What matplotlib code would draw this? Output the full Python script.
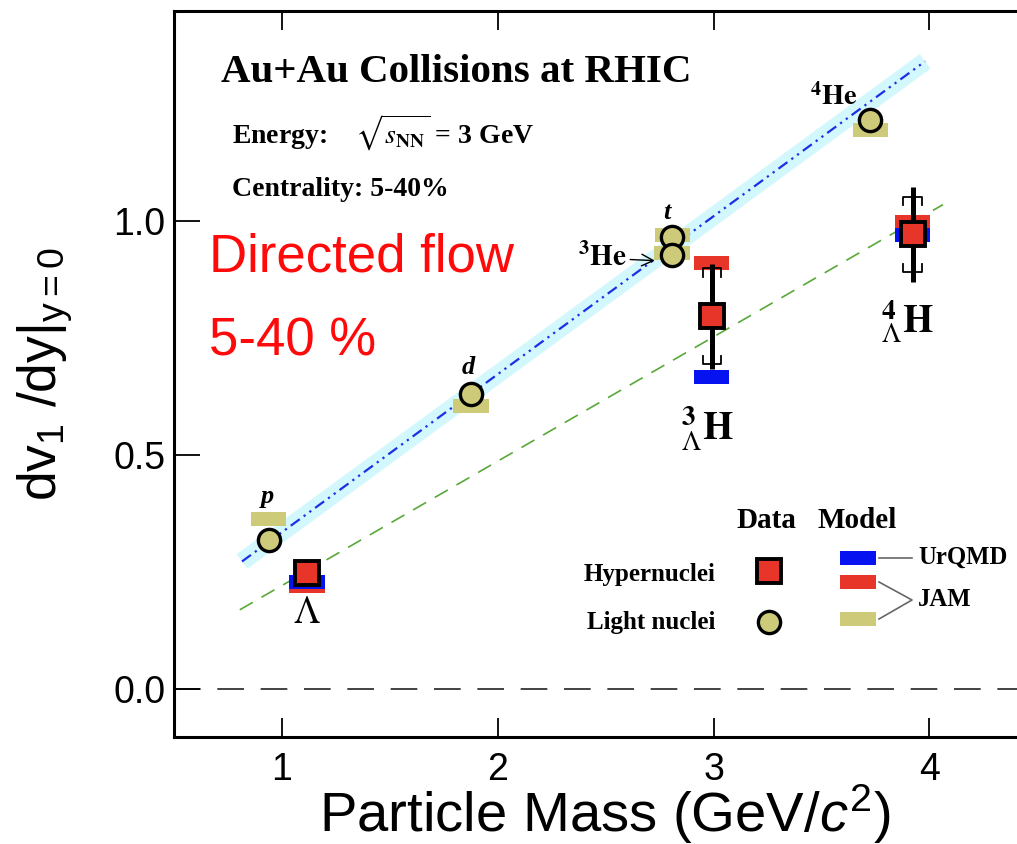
import matplotlib
matplotlib.use("Agg")
import matplotlib.pyplot as plt
import numpy as np

# ---- data: slope of directed flow vs particle mass ----
light_mass = [0.938, 1.876, 2.809, 2.808, 3.727]      # p, d, t, 3He, 4He
light_dv1 = [0.319, 0.630, 0.966, 0.927, 1.216]
light_jam = [0.364, 0.606, 0.970, 0.933, 1.195]

hyper_mass = [1.116, 2.991, 3.922]                     # Lambda, 3LH, 4LH
hyper_dv1 = [0.248, 0.797, 0.972]
hyper_stat = [0.0, 0.112, 0.101]
hyper_sys = [0.0, 0.103, 0.081]
hyper_jam = [0.220, 0.910, 0.998]
hyper_urqmd = [0.228, 0.668, 0.970]

# linear fits (slope, intercept, mass range)
light_fit = (0.338, -0.003, 0.815, 3.98)
hyper_fit = (0.266, -0.045, 0.805, 4.063)

x_ticks = [1, 2, 3, 4]
y_ticks = [0.0, 0.5, 1.0]

# ---- colours ----
KHAKI = "#CDCA7A"
RED = "#E8352A"
BLUE = "#0712F0"
BAND = "#D2F7FC"
FITBLUE = "#1A2FE6"
GREEN = "#5AA83A"

SERIF = "Liberation Serif"
SANS = "Liberation Sans"

plt.rcParams["font.family"] = SANS
plt.rcParams["mathtext.fontset"] = "custom"
plt.rcParams["mathtext.rm"] = SANS
plt.rcParams["mathtext.it"] = SANS + ":italic"
plt.rcParams["mathtext.bf"] = SANS + ":bold"

fig = plt.figure(figsize=(10.17, 8.44), dpi=100)
ax = fig.add_axes([174 / 1017, 107 / 844, 843 / 1017, 726 / 844])
ax.set_xlim(0.5, 4.406)
ax.set_ylim(-0.103, 1.45)

# ---- fits ----
s, b, m0, m1 = light_fit
mm = np.array([m0, m1])
ax.plot(mm, s * mm + b, color=BAND, lw=13, solid_capstyle="butt", zorder=1)
ax.plot(mm, s * mm + b, color=FITBLUE, lw=1.6, dashes=(5, 2.2, 1, 2.2, 1, 2.2), zorder=2)
s, b, m0, m1 = hyper_fit
mm = np.array([m0, m1])
ax.plot(mm, s * mm + b, color=GREEN, lw=1.2, dashes=(9, 6), zorder=2)

# zero line
ax.axhline(0.0, color="#222222", lw=1.2, dashes=(16, 10), zorder=1)

# ---- model bands ----
bw, bh = 0.165, 0.03
ax.bar(light_mass, bh, bottom=np.array(light_jam) - bh / 2, width=bw, color=KHAKI, zorder=3)
ax.bar(hyper_mass, bh, bottom=np.array(hyper_jam) - bh / 2, width=bw, color=RED, zorder=3)
ax.bar(hyper_mass, bh, bottom=np.array(hyper_urqmd) - bh / 2, width=bw, color=BLUE, zorder=3.1)

# ---- data ----
ax.errorbar(hyper_mass, hyper_dv1, yerr=hyper_stat, fmt="none", ecolor="black",
            elinewidth=3.6, capsize=0, zorder=4)
hw, hl = 0.042, 0.018
for m, v, e in zip(hyper_mass, hyper_dv1, hyper_sys):
    if e <= 0:
        continue
    ax.plot([m - hw, m - hw, m + hw, m + hw], [v + e - hl, v + e, v + e, v + e - hl],
            color="black", lw=1.3, zorder=4)
    ax.plot([m - hw, m - hw, m + hw, m + hw], [v - e + hl, v - e, v - e, v - e + hl],
            color="black", lw=1.3, zorder=4)

ax.plot(light_mass, light_dv1, "o", ms=16, mfc=KHAKI, mec="black", mew=2.4, zorder=5)
ax.plot(hyper_mass, hyper_dv1, "s", ms=17.5, mfc=RED, mec="black", mew=2.8, zorder=5)

# ---- particle labels ----
lab = dict(family=SERIF, fontweight="bold", math_fontfamily="stix", color="black", zorder=6)
ax.text(0.935, 0.411, "p", fontsize=19, style="italic", ha="center", va="center", **lab)
ax.text(1.862, 0.687, "d", fontsize=19, style="italic", ha="center", va="center", **lab)
ax.text(2.784, 1.019, "t", fontsize=19, style="italic", ha="center", va="center", **lab)
ax.text(3.56, 1.266, r"$^{\mathbf{4}}\mathbf{He}$", fontsize=20.5, ha="center", va="center", **lab)
ax.annotate(r"$^{\mathbf{3}}\mathbf{He}$", xy=(2.728, 0.916), xytext=(2.487, 0.921),
            fontsize=21, ha="center", va="center", family=SERIF, math_fontfamily="stix",
            arrowprops=dict(arrowstyle="->", lw=1.0, color="black", shrinkA=0, shrinkB=0),
            zorder=6)
ax.text(1.116, 0.162, r"$\Lambda$", fontsize=27, ha="center", va="center", **lab)
ax.text(2.97, 0.555, r"${}^{\mathbf{3}}_{\Lambda}\mathbf{H}$", fontsize=28, ha="center", va="center", **lab)
ax.text(3.90, 0.785, r"${}^{\mathbf{4}}_{\Lambda}\mathbf{H}$", fontsize=28, ha="center", va="center", **lab)

# ---- header texts ----
ax.text((221 - 174) / 843, (737 - 73) / 726, "Au+Au Collisions at RHIC", transform=ax.transAxes,
        fontsize=29.5, ha="left", va="center", **lab)
ax.text((232 - 174) / 843, (737 - 133) / 726, r"Energy:    $\sqrt{s_{\mathbf{NN}}}$ = 3 GeV",
        transform=ax.transAxes, fontsize=20, ha="left", va="center", **lab)
ax.text((232 - 174) / 843, (737 - 190) / 726, "Centrality: 5-40%", transform=ax.transAxes,
        fontsize=20, ha="left", va="center", **lab)

ax.text((209 - 174) / 843, (737 - 258) / 726, "Directed flow", transform=ax.transAxes,
        fontsize=38, color="#FF0A0A", ha="left", va="center", family=SANS)
ax.text((209 - 174) / 843, (737 - 342) / 726, "5-40 %", transform=ax.transAxes,
        fontsize=38, color="#FF0A0A", ha="left", va="center", family=SANS)

# ---- legend ----
def fx(px):
    return (px - 174) / 843


def fy(py):
    return (737 - py) / 726


T = ax.transAxes
ax.text(fx(766), fy(521), "Data", transform=T, fontsize=21, ha="center", va="center", **lab)
ax.text(fx(857), fy(521), "Model", transform=T, fontsize=21, ha="center", va="center", **lab)
ax.text(fx(715), fy(574), "Hypernuclei", transform=T, fontsize=18, ha="right", va="center", **lab)
ax.text(fx(715), fy(622), "Light nuclei", transform=T, fontsize=18, ha="right", va="center", **lab)
ax.plot([fx(769)], [fy(571)], "s", transform=T, ms=17.5, mfc=RED, mec="black", mew=2.8,
        clip_on=False, zorder=5)
ax.plot([fx(769)], [fy(622)], "o", transform=T, ms=16, mfc=KHAKI, mec="black", mew=2.4,
        clip_on=False, zorder=5)
for py, col in [(558, BLUE), (582, RED), (619, KHAKI)]:
    ax.add_patch(plt.Rectangle((fx(840), fy(py + 7)), 36 / 843, 14 / 726, transform=T,
                               color=col, lw=0, zorder=5))
ax.plot([fx(879), fx(912)], [fy(558), fy(558)], transform=T, color="#666666", lw=1.2)
ax.plot([fx(879), fx(912), fx(879)], [fy(582), fy(600), fy(619)], transform=T,
        color="#666666", lw=1.2)
ax.text(fx(918), fy(557), "UrQMD", transform=T, fontsize=17.8, ha="left", va="center", **lab)
ax.text(fx(918), fy(600), "JAM", transform=T, fontsize=17.8, ha="left", va="center", **lab)

# ---- axes styling ----
ax.set_xticks(x_ticks)
ax.set_xticklabels([str(v) for v in x_ticks])
ax.set_yticks(y_ticks)
ax.set_yticklabels([f"{v:.1f}" for v in y_ticks])
ax.tick_params(axis="x", direction="in", length=14, width=1.3, top=True, labelsize=27, pad=11)
ax.tick_params(axis="y", direction="in", length=19, width=1.3, right=False, labelsize=27, pad=6)
ax.spines["right"].set_visible(False)
for sp in ["left", "bottom", "top"]:
    ax.spines[sp].set_linewidth(2.2)

ax.set_xlabel(r"Particle Mass (GeV/$c^2$)", fontsize=40.5, va="baseline")
ax.xaxis.set_label_coords(0.511, (737 - 832) / 726)
ax.set_ylabel(r"dv$_1$ /dy|$_{\mathrm{y=0}}$", fontsize=38.5, va="baseline")
ax.yaxis.set_label_coords((57 - 174) / 843, 0.5)

fig.savefig("out.png", dpi=100)
